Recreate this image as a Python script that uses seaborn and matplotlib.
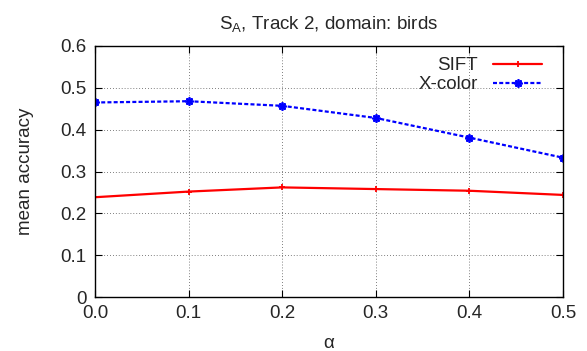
import matplotlib
matplotlib.use("Agg")
import matplotlib.pyplot as plt
import seaborn as sns
import pandas as pd

alpha = [0.0, 0.1, 0.2, 0.3, 0.4, 0.5]
sift = [0.2385, 0.252, 0.262, 0.258, 0.254, 0.244]
xcolor = [0.465, 0.468, 0.457, 0.428, 0.381, 0.333]

df_sift = pd.DataFrame({"alpha": alpha, "acc": sift})
df_x = pd.DataFrame({"alpha": alpha, "acc": xcolor})

sns.set_style("white")
plt.rcParams['font.family'] = ['Liberation Sans', 'DejaVu Sans']
plt.rcParams['mathtext.fontset'] = 'custom'
plt.rcParams['mathtext.rm'] = 'Liberation Sans'
plt.rcParams['mathtext.it'] = 'Liberation Sans'

FS = 13.5

fig = plt.figure(figsize=(5.87, 3.51), dpi=100)
ax = fig.add_axes([95 / 587, 54 / 351, 468 / 587, 251 / 351])

sns.lineplot(data=df_sift, x="alpha", y="acc", color="#ff0000", label="SIFT",
             marker="+", markersize=5, markeredgewidth=1.3,
             markeredgecolor="#ff0000", linewidth=1.6, ax=ax)
sns.lineplot(data=df_x, x="alpha", y="acc", color="#0000ff", label="X-color",
             marker=(8, 2, 0), markersize=6, markeredgewidth=1.3,
             markeredgecolor="#0000ff", linewidth=1.6,
             linestyle=(0, (1.8, 1.0)), ax=ax)

ax.set_xlim(0, 0.5)
ax.set_ylim(0, 0.6)
ax.set_xticks(alpha)
ax.set_xticklabels(["0.0", "0.1", "0.2", "0.3", "0.4", "0.5"])
ax.set_yticks([0, 0.1, 0.2, 0.3, 0.4, 0.5, 0.6])
ax.set_yticklabels(["0", "0.1", "0.2", "0.3", "0.4", "0.5", "0.6"])
ax.grid(True, color="#555555", linestyle=(0, (1, 2.5)), linewidth=0.6)
ax.tick_params(direction="in", length=5, width=0.8, labelsize=FS, color="black",
               top=True, right=True, bottom=True, left=True, pad=6)
for s in ax.spines.values():
    s.set_color("black")
    s.set_linewidth(1.0)
ax.set_xlabel("α", fontsize=FS, labelpad=9)
ax.set_ylabel("mean accuracy", fontsize=FS, labelpad=19)
ax.set_title(r"S$_\mathregular{A}$, Track 2, domain: birds", fontsize=FS, pad=12)

leg = ax.legend(loc="upper right", bbox_to_anchor=(0.955, 0.955), frameon=False,
                markerfirst=False, fontsize=FS, handlelength=2.6,
                borderaxespad=0, borderpad=0, labelspacing=0.1, handletextpad=0.8)

fig.savefig("out.png", dpi=100)
